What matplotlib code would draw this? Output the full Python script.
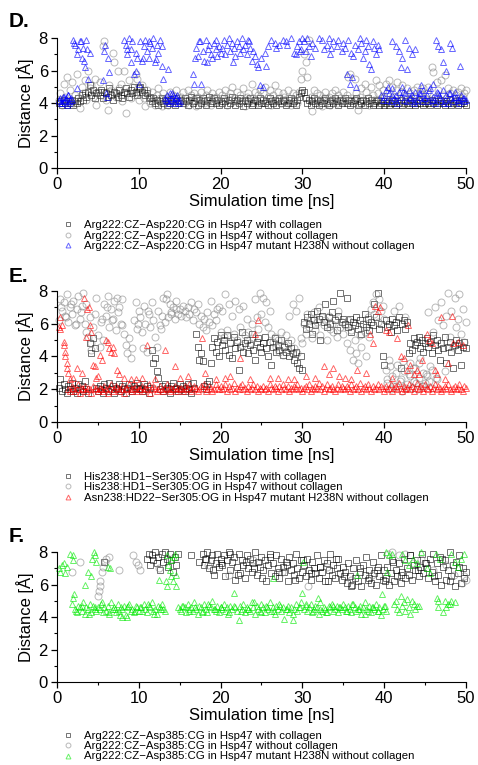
import numpy as np
import matplotlib.pyplot as plt
from matplotlib.ticker import MultipleLocator

plt.rcParams['font.family'] = ['Liberation Sans', 'DejaVu Sans']

nan = np.nan
# frames written every 0.2 ns
time_ns = np.arange(1, 251) * 0.2

# ---- panel D : Arg222:CZ-Asp220:CG ----
d_sq = [4.0, 4.1, 3.9, 4.2, 4.0, 3.9, 4.1, 4.0, 4.2, 3.9, 4.1, 4.0, 4.3, 4.1, 4.5, 4.2, 4.6, 4.4, 4.7, 5.1, 4.5, 4.8, 4.3, 4.6, 4.7,
        4.5, 4.8, 4.3, 4.7, 4.6, 4.4, 4.9, 4.5, 4.2, 4.7, 4.6, 4.4, 4.8, 4.5, 4.3, 4.7, 4.9, 4.6, 4.4, 4.8, 4.6, 5.0, 4.7, 4.5, 4.9,
        5.0, 4.7, 4.8, 4.5, 4.6, 4.3, 4.4, 4.1, 4.3, 4.0, 4.2, 3.9, 4.1, 4.3, 4.0, 4.2, 3.9, 4.1, 4.0, 4.2, 4.1, 3.9, 4.3, 4.0, 4.1,
        4.2, 4.0, 4.3, 4.1, 3.9, 4.2, 4.4, 4.0, 4.1, 4.3, 3.9, 4.2, 4.0, 4.3, 4.1, 3.9, 4.2, 4.4, 4.0, 4.1, 4.3, 4.0, 4.2, 3.9, 4.1,
        4.0, 4.3, 4.1, 3.9, 4.2, 4.0, 4.4, 4.1, 3.9, 4.2, 4.0, 4.3, 4.1, 3.8, 4.2, 4.0, 4.1, 4.3, 3.9, 4.0, 4.2, 4.1, 3.9, 4.3, 4.0,
        4.2, 4.0, 4.1, 3.9, 4.3, 4.1, 4.0, 4.2, 3.9, 4.1, 4.3, 4.0, 4.2, 4.1, 3.9, 4.0, 4.2, 4.3, 4.0, 4.1, 3.9, 4.2, 4.4, 4.6, 4.8,
        4.7, 4.3, 4.0, 4.2, 3.9, 4.1, 4.3, 4.0, 4.2, 3.9, 4.1, 4.0, 4.2, 4.3, 4.0, 3.9, 4.1, 4.2, 4.0, 4.3, 4.1, 3.9, 4.2, 4.0, 4.1,
        4.3, 4.0, 4.2, 3.9, 4.1, 4.0, 4.2, 4.3, 3.9, 4.1, 4.0, 4.2, 3.9, 4.1, 4.3, 4.0, 4.2, 3.9, 4.0, 4.1, 4.2, 3.9, 4.0, 4.1, 3.9,
        4.0, 4.1, 3.9, 4.0, 4.2, 4.0, 3.9, 4.1, 4.0, 4.2, 3.9, 4.0, 4.1, 4.0, 3.9, 4.2, 4.0, 4.1, 3.9, 4.0, 4.2, 4.0, 4.1, 3.9, 4.0,
        4.1, 4.0, 3.9, 4.2, 4.0, 4.1, 3.9, 4.0, 4.2, 4.1, 4.0, 3.9, 4.1, 4.0, 4.2, 3.9, 4.0, 4.1, 4.0, 3.9, 4.2, 4.0, 4.1, 4.0, 3.9]
d_ci = [4.2, 4.6, 3.9, 5.2, 4.4, 5.6, 4.1, 4.8, 5.3, 4.0, 4.5, 5.8, 4.3, 3.7, 5.0, 4.6, 5.4, 4.2, 6.0, 4.9, 5.1, 4.4, 5.5, 3.9, 4.7,
        5.3, 4.5, 7.5, 7.8, 4.2, 3.6, 5.1, 4.8, 7.1, 6.5, 4.4, 6.0, 4.9, 5.2, 4.1, 6.0, 3.4, 4.7, 5.4, 4.3, 5.0, 4.5, 5.8, 5.5, 4.2,
        4.6, 5.1, 4.3, 3.8, 4.8, 4.4, 4.0, 4.7, 4.2, 3.9, 4.5, 4.9, 4.3, 3.8, 4.6, 4.1, 4.4, 3.9, 4.7, 4.2, 4.5, 4.0, 4.8, 4.3, 4.1,
        4.4, 4.7, 4.0, 4.3, 4.8, 3.9, 4.5, 4.2, 4.6, 3.8, 4.4, 4.1, 4.7, 4.3, 4.0, 4.5, 4.8, 4.2, 3.9, 4.6, 4.3, 4.4, 4.1, 4.7, 4.0,
        4.5, 4.2, 4.8, 3.9, 4.4, 4.6, 5.0, 4.1, 4.3, 4.7, 4.0, 4.5, 4.2, 4.9, 3.8, 4.4, 4.6, 4.1, 5.2, 4.3, 4.7, 4.0, 4.5, 4.8, 4.2,
        4.6, 5.0, 4.1, 4.4, 4.8, 3.9, 4.5, 5.1, 4.2, 4.7, 4.3, 4.0, 4.6, 4.4, 4.1, 4.8, 4.3, 3.9, 4.6, 4.2, 4.5, 4.0, 4.7, 5.5, 6.0,
        7.0, 6.5, 5.6, 7.9, 4.4, 3.5, 4.8, 4.2, 4.6, 4.0, 4.5, 3.8, 4.3, 4.7, 4.1, 4.4, 3.9, 4.6, 4.2, 4.8, 4.0, 4.5, 4.3, 4.1, 4.7,
        4.2, 4.5, 5.6, 5.8, 4.3, 4.0, 5.5, 4.6, 3.6, 4.4, 4.9, 4.1, 5.2, 4.7, 4.3, 3.9, 5.0, 4.5, 4.2, 5.4, 4.6, 5.1, 4.3, 4.8, 4.4,
        5.2, 4.6, 5.4, 4.1, 5.0, 4.4, 4.8, 5.3, 4.2, 4.7, 5.1, 4.0, 4.5, 4.9, 4.3, 4.6, 4.1, 4.8, 4.4, 5.0, 4.2, 4.7, 4.5, 4.9, 4.3,
        4.6, 5.0, 4.2, 6.2, 5.9, 4.4, 5.3, 4.8, 4.1, 5.4, 4.5, 5.7, 4.3, 4.9, 4.6, 4.2, 4.8, 4.0, 4.5, 4.7, 4.3, 4.9, 4.4, 4.6, 4.8]
d_tr = [4.1, 4.3, 4.0, 4.4, 4.2, 3.9, 4.5, 4.1, 4.2, 7.9, 7.6, 4.9, 7.3, 7.8, 6.8, 7.4, 6.2, 7.9, 5.5, 7.1, nan, nan, nan, nan, nan,
        nan, nan, 5.4, 7.2, 4.6, 6.8, 5.9, nan, nan, nan, nan, nan, nan, nan, nan, 7.9, 7.6, 7.3, 8.0, 6.5, 7.8, 5.8, 7.1, 6.8, 5.2,
        7.8, 6.6, 7.5, 7.9, 7.2, 6.8, 7.7, 7.4, 8.0, 6.5, 7.6, 7.1, 7.9, 6.3, 5.5, 4.3, 4.1, 6.1, 4.6, 4.2, 4.5, 4.0, 4.4, 4.2, 4.1,
        nan, nan, nan, nan, nan, nan, nan, 5.8, 5.2, 7.4, 6.9, 7.8, 5.2, 7.2, 6.6, 7.9, 6.5, 7.6, 7.0, 6.8, 7.7, 7.3, 6.9, 7.5, 7.1,
        7.4, 7.9, 7.0, 7.6, 8.0, 7.2, 7.7, 7.4, 6.9, 7.8, 7.5, 7.1, 8.0, 7.3, 7.6, 7.0, 7.9, 7.4, 6.6, 7.2, 6.9, 6.4, 6.2, 5.1, 6.8,
        5.0, 7.1, 6.3, 7.5, nan, 7.9, nan, 7.7, 7.4, nan, 7.6, nan, 7.9, nan, 7.8, nan, nan, 8.0, nan, 7.1, 7.0, 7.5, 7.8, 7.3, 8.0,
        7.8, 7.2, 8.0, 7.5, 6.9, 7.7, nan, 7.4, nan, 8.0, nan, 7.9, 7.3, nan, 7.6, 8.0, 7.0, nan, 7.8, nan, 7.5, 7.9, nan, 7.2, 7.7,
        7.4, 5.8, 7.9, 5.2, 7.1, 6.9, 7.6, 5.0, 7.3, 8.0, 7.7, 6.8, 7.2, 7.9, 7.5, 6.4, 6.1, 7.8, 7.4, 7.0, 7.6, 7.3, 4.5, 4.2, 4.4,
        4.8, 4.2, 4.6, 4.1, 4.9, 4.3, 4.5, 4.0, 4.7, 4.4, 5.0, 4.2, 4.6, 4.1, 4.8, 4.3, 4.5, 4.0, 4.7, 4.2, 4.4, 4.6, 4.1, 4.8, 4.3,
        4.5, 4.1, 4.9, 4.2, 4.4, 4.0, 4.7, 4.6, 4.3, 4.1, 4.8, 4.2, 4.5, 4.0, 4.6, 4.3, 4.1, 4.7, 4.4, 4.2, 4.0, 4.5, 4.3, 4.1, 4.2]
d_tr_xt = [0.3, 0.5, 0.7, 0.9, 1.1, 1.3, 1.5, 1.7, 2.1, 2.5, 2.9, 3.3, 3.7, 5.9, 6.1, 8.5, 9.1, 9.7, 10.5, 11.3, 12.1, 12.9,
           13.3, 13.5, 13.7, 13.9, 14.1, 14.3, 14.5, 14.7, 14.9, 16.9, 17.5, 18.5, 19.5, 21.5, 23.5, 28.1, 29.7, 33.5, 36.1,
           40.5, 41.0, 41.4, 41.8, 42.0, 42.2, 42.6, 42.8, 43.0, 43.4, 43.8, 44.5, 46.0, 46.3, 46.6, 47.0, 47.2, 47.6, 48.0,
           48.3, 49.3, 40.9, 41.5, 42.3, 43.1, 43.7, 44.3, 44.9, 45.5, 46.1, 46.7, 47.3, 47.9, 48.5, 49.1, 49.7]
d_tr_xv = [4.2, 4.0, 4.4, 4.1, 4.3, 4.5, 4.0, 4.3, 7.7, 7.0, 7.8, 6.6, 7.3, 7.6, 4.4, 7.0, 7.3, 6.0, 6.8, 7.8, 6.7, 7.5,
           4.2, 4.5, 4.0, 4.3, 4.6, 4.1, 4.3, 4.5, 4.0, 6.8, 7.8, 7.3, 7.9, 6.5, 7.8, 7.6, 7.2, 7.4, 5.6,
           5.0, 7.8, 7.5, 7.2, 6.2, 6.8, 7.9, 6.1, 7.4, 7.0, 7.3, 5.1, 5.2, 7.9, 7.5, 7.3, 6.5, 6.0, 7.7,
           7.4, 6.3, 4.5, 4.2, 4.7, 4.4, 4.1, 4.6, 4.3, 4.8, 4.2, 4.5, 4.0, 4.6, 4.4, 4.2, 4.3]

# ---- panel E : His238:HD1 / Asn238:HD22 - Ser305:OG ----
e_sq = [2.1, 2.6, 1.9, 2.3, 2.0, 1.8, 2.2, 2.0, 2.4, 1.9, 2.1, 1.8, 2.3, 2.0, 2.2, 1.9, 2.5, 2.0, 1.8, 4.8, 4.2, 5.1, 4.5, 2.1, 1.9,
        2.2, 2.0, 1.8, 2.3, 2.1, 1.9, 2.4, 2.0, 2.2, 1.8, 2.1, 2.0, 2.3, 1.9, 2.2, 2.0, 1.8, 2.1, 2.3, 2.0, 1.9, 2.2, 2.1, 2.4, 2.0,
        2.1, 1.9, 2.3, 2.0, 2.2, 1.8, 2.1, 4.4, 3.6, 3.9, 3.1, 2.7, 2.0, 2.2, 1.9, 2.3, 2.1, 2.0, 1.8, 2.2, 2.4, 2.0, 2.1, 1.9, 2.3,
        2.0, 2.2, 1.9, 2.1, 2.3, 2.0, 1.8, 2.4, 2.1, 5.4, 4.6, 3.8, 4.2, 3.7, 2.2, 2.0, 2.3, 2.5, 3.6, 4.6, 5.1, 4.3, 4.9, 4.0, 5.3,
        4.7, 5.0, 4.4, 5.3, 4.1, 4.8, 3.9, 5.2, 4.5, 4.9, 3.2, 4.6, 5.5, 4.3, 4.8, 5.0, 4.2, 4.7, 5.4, 4.4, 3.8, 4.9, 5.1, 4.6, 4.3,
        4.8, 5.2, 4.5, 4.0, 4.9, 3.5, 4.6, 5.1, 4.3, 4.7, 4.4, 5.0, 4.1, 4.6, 4.3, 4.8, 4.0, 4.5, 4.2, 3.8, 4.3, 3.6, 3.3, 4.0, 3.2,
        6.1, 5.7, 6.4, 6.0, 6.6, 5.4, 6.2, 5.9, 6.8, 6.3, 5.0, 6.5, 6.1, 7.2, 5.8, 6.4, 6.0, 6.7, 7.4, 6.2, 5.6, 6.5, 7.9, 6.1, 6.3,
        6.0, 7.6, 5.8, 6.3, 5.5, 6.1, 5.9, 6.4, 5.7, 6.2, 5.4, 6.0, 6.6, 5.8, 6.3, 5.6, 6.1, 5.9, 7.2, 6.4, 7.9, 5.7, 6.0, 4.0, 3.5,
        6.2, 5.8, 6.0, 5.5, 6.3, 5.9, 6.1, 5.6, 6.4, 3.3, 6.0, 6.2, 5.7, 6.1, 4.2, 4.8, 4.4, 5.1, 4.7, 4.9, 5.2, 4.5, 5.0, 4.3, 4.8,
        5.1, 4.6, 4.9, 4.2, 5.3, 4.7, 5.0, 4.4, 3.8, 4.8, 4.5, 5.2, 3.6, 4.6, 4.9, 4.3, 3.3, 4.7, 5.0, 4.4, 4.8, 3.5, 4.6, 4.9, 4.5]
e_ci = [6.2, 7.5, 6.8, 7.3, 6.5, 7.8, 6.1, 7.0, 6.6, 7.4, 5.9, 6.9, 7.7, 6.3, 7.1, 7.9, 6.0, 7.2, 5.2, 6.4, 4.8, 5.8, 6.6, 7.6, 5.3,
        4.6, 6.1, 5.0, 7.2, 6.5, 7.7, 5.8, 6.9, 6.3, 7.4, 5.6, 6.7, 7.0, 6.0, 7.5, 5.4, 4.7, 4.2, 5.1, 3.9, 4.5, 6.2, 7.3, 5.7, 6.8,
        6.4, 5.5, 7.1, 6.0, 4.3, 6.6, 5.8, 7.3, 6.2, 5.2, 4.6, 6.8, 5.9, 6.5, 7.6, 6.1, 7.8, 6.4, 7.2, 6.7, 7.0, 6.3, 7.4, 6.6, 6.9,
        6.5, 7.1, 6.8, 6.4, 7.0, 6.6, 7.3, 6.2, 6.9, 6.7, 7.2, 6.0, 6.5, 5.8, 6.3, 5.6, 6.7, 6.1, 7.4, 5.9, 6.6, 6.2, 6.9, 7.0, 5.5,
        6.8, 5.2, 7.8, 5.6, 7.2, 4.9, 6.5, 5.4, 7.4, 5.0, 6.9, 5.8, 4.7, 7.1, 5.3, 6.3, 5.5, 4.8, 6.0, 5.1, 7.5, 6.4, 5.7, 7.9, 6.6,
        7.6, 6.1, 7.3, 5.8, 6.8, 5.4, 4.9, 5.2, 4.6, 5.0, 4.3, 5.5, 4.1, 4.7, 5.3, 4.4, 6.5, 5.0, 7.2, 4.5, 6.8, 4.2, 7.6, 5.1, 4.8,
        6.0, 5.4, 6.6, 5.8, 6.3, 5.1, 6.7, 5.6, 6.1, 7.0, 5.3, 6.4, 5.9, 6.2, 5.0, 6.5, 5.7, 6.0, 5.5, 6.3, 5.2, 6.8, 5.8, 6.1, 5.4,
        5.9, 4.8, 6.2, 4.4, 5.6, 3.8, 5.0, 4.2, 3.6, 5.3, 4.6, 6.0, 5.5, 4.0, 6.4, 5.2, 6.9, 7.3, 6.6, 7.8, 6.1, 7.5, 6.8, 7.1, 6.3,
        3.2, 2.4, 3.8, 2.0, 2.8, 6.8, 2.2, 3.5, 7.1, 2.6, 1.9, 3.1, 6.4, 2.3, 2.9, 3.6, 2.1, 2.5, 3.3, 2.0, 2.7, 3.9, 2.2, 3.0, 2.4,
        2.8, 6.7, 3.4, 2.1, 5.5, 7.0, 2.6, 6.2, 4.8, 7.3, 5.9, 3.1, 6.5, 7.9, 5.2, 6.8, 4.6, 7.6, 5.8, 6.3, 7.8, 5.4, 6.9, 4.9, 6.1]
e_ci_xt = [40.3, 40.7, 41.1, 41.5, 41.9, 42.3, 42.7, 43.1, 43.5, 43.9, 44.3, 44.7, 45.1, 45.5, 45.9, 46.3,
           0.5, 1.1, 1.7, 2.3, 2.9, 3.5, 4.1, 5.5, 6.1, 6.7, 7.3, 7.9, 9.9, 10.5, 11.1, 12.7, 13.3, 13.9, 14.5]
e_ci_xv = [2.6, 3.4, 2.2, 3.0, 2.5, 3.7, 2.1, 2.8, 3.3, 2.4, 3.6, 2.2, 2.9, 2.5, 3.2, 2.7,
           7.0, 6.4, 7.2, 6.0, 6.7, 5.5, 4.4, 6.3, 7.0, 6.2, 7.6, 5.9, 6.0, 4.5, 6.8, 5.7, 7.5, 6.6, 6.9]
e_tr = [5.8, 5.7, 5.9, 4.9, 4.3, 3.6, 2.0, 1.9, 2.2, 2.1, 1.9, 2.0, 2.3, 1.8, 2.1, 2.0, 2.2, 1.9, 2.1, 2.0, 1.8, 2.2, 2.0, 2.1, 1.9,
        2.1, 2.0, 1.9, 2.2, 2.0, 1.8, 2.1, 2.3, 1.9, 2.0, 2.2, 2.1, 1.9, 2.0, 2.2, 1.8, 2.1, 2.0, 2.3, 1.9, 2.0, 2.1, 2.2, 1.9, 2.0,
        2.0, 2.2, 1.9, 2.1, 2.0, 2.3, 1.8, 2.0, 2.2, 2.1, 1.9, 2.0, 2.2, 2.0, 1.9, 2.1, 2.3, 2.0, 1.9, 2.1, 2.0, 2.2, 1.9, 2.1, 2.0,
        2.1, 1.9, 2.2, 2.0, 2.1, 2.3, 1.9, 2.0, 2.2, 2.1, 1.9, 2.0, 2.2, 2.1, 2.3, 1.9, 2.0, 2.2, 2.1, 1.9, 2.0, 2.3, 2.1, 2.0, 2.2,
        2.0, 2.1, 2.3, 1.9, 2.2, 2.0, 2.1, 2.4, 1.9, 2.1, 2.0, 2.2, 2.3, 2.0, 2.1, 1.9, 2.2, 2.0, 2.1, 2.3, 2.0, 2.2, 1.9, 2.1, 2.0,
        2.2, 2.0, 2.1, 1.9, 2.3, 2.1, 2.0, 2.2, 2.1, 1.9, 2.2, 2.0, 2.3, 2.1, 2.0, 2.2, 1.9, 2.1, 2.0, 2.2, 2.1, 2.3, 2.0, 2.1, 1.9,
        2.1, 2.2, 2.0, 2.3, 1.9, 2.1, 2.0, 2.2, 2.1, 2.4, 2.0, 2.2, 1.9, 2.1, 2.3, 2.0, 2.1, 2.2, 2.0, 1.9, 2.1, 2.3, 2.0, 2.2, 2.1,
        2.0, 2.2, 2.1, 1.9, 2.3, 2.0, 2.1, 2.2, 2.0, 2.4, 1.9, 2.1, 2.2, 2.0, 2.3, 2.1, 1.9, 2.2, 2.0, 2.1, 2.3, 2.0, 2.2, 2.1, 1.9,
        2.2, 2.0, 2.1, 2.3, 1.9, 2.1, 2.2, 2.0, 2.4, 2.1, 1.9, 2.2, 2.0, 2.1, 2.3, 2.0, 2.2, 1.9, 2.1, 2.4, 2.0, 2.2, 2.1, 1.9, 2.3,
        2.1, 2.0, 2.2, 1.9, 2.1, 2.3, 2.0, 2.2, 2.1, 1.9, 2.0, 2.2, 2.1, 2.3, 2.0, 1.9, 2.1, 2.2, 2.0, 2.1, 2.3, 2.0, 1.9, 2.2, 2.1]
e_tr_xt = [0.4, 0.8, 1.0, 1.2, 1.4, 1.6, 2.5, 3.0, 3.3, 3.5, 3.7, 3.9, 4.0, 4.1, 4.4, 4.6, 4.8, 5.3, 5.5, 6.0, 6.2, 6.4,
           6.6, 6.8, 7.0, 7.3, 8.2, 9.0, 11.0, 13.2, 14.4, 16.0, 17.7, 18.1, 20.5, 22.4, 24.2, 24.6, 27.0, 29.0, 31.5,
           32.6, 33.2, 33.8, 34.5, 35.2, 36.7, 37.8, 38.3, 38.6, 38.9, 39.2, 39.5, 40.2, 40.6, 41.6, 42.0, 42.4, 42.8,
           42.9, 43.2, 43.6, 44.0, 44.6, 45.2, 45.5, 45.8, 46.2, 46.5, 47.0, 47.8, 48.3, 48.4, 49.0, 49.6,
           2.0, 5.0, 7.6, 9.6, 10.4, 12.0, 15.0, 19.4, 21.2, 23.6, 26.0, 28.2, 30.4, 36.0, 41.0, 44.2, 47.4]
e_tr_xv = [6.4, 4.7, 4.0, 3.3, 3.0, 2.6, 3.3, 3.0, 7.6, 5.2, 6.9, 7.0, 5.9, 5.5, 3.5, 3.4, 2.7, 4.1, 3.8, 5.0, 4.9, 4.5,
           4.3, 4.6, 4.2, 3.2, 2.7, 2.6, 4.7, 4.4, 3.4, 2.8, 5.1, 3.0, 2.7, 3.9, 5.4, 6.2, 2.7, 2.6, 2.7,
           3.4, 2.9, 3.3, 2.8, 2.7, 3.2, 3.0, 5.4, 4.8, 7.1, 6.8, 7.0, 5.6, 5.5, 5.1, 4.0, 3.9, 3.2,
           5.9, 3.5, 2.9, 3.2, 3.8, 5.4, 5.0, 4.8, 3.2, 2.9, 6.4, 3.6, 6.5, 4.8, 4.9, 4.7,
           2.7, 2.8, 2.9, 2.6, 2.7, 2.6, 2.7, 2.6, 2.8, 2.6, 2.7, 2.6, 2.8, 2.6, 2.7, 2.9, 2.6]

# ---- panel F : Arg222:CZ-Asp385:CG ----
f_sq = [nan] * 25 + \
       [nan, nan, nan, 7.4, nan, nan, nan, nan, nan, nan, nan, nan, nan, nan, nan, nan, nan, nan, nan, nan, nan, nan, nan, nan, nan,
        nan, nan, nan, nan, 7.6, 7.9, 7.2, 7.8, 7.5, 8.0, 7.3, 7.7, 6.9, 7.9, 7.4, 8.0, 7.6, 7.1, 7.9, 7.5, 6.8, 7.7, 7.2, 7.9, nan,
        nan, nan, nan, nan, nan, nan, 7.8, nan, nan, nan, nan, 7.4, nan, 7.9, 7.2, 7.6, 8.0, 7.0, 7.5, 7.8, 6.6, 7.3, 7.9, 7.1, 7.6,
        7.2, 7.8, 6.5, 7.5, 8.0, 6.9, 7.4, 7.7, 6.3, 7.1, 7.9, 6.7, 7.5, 7.2, 6.4, 7.8, 7.0, 7.6, 6.8, 7.3, 8.0, 6.6, 7.4, 7.1, 7.7,
        6.9, 7.5, 6.2, 7.2, 7.9, 6.7, 7.3, 6.5, 7.8, 7.0, 6.4, 7.6, 7.1, 6.8, 7.4, 6.2, 7.7, 6.9, 7.3, 6.6, 7.9, 7.0, 6.4, 7.5, 6.8,
        7.2, 6.5, 7.6, 6.9, 6.3, 7.4, 7.0, 6.7, 7.8, 6.4, 7.1, 6.8, 7.5, 6.2, 7.3, 6.9, 7.9, 6.6, 7.2, 6.4, 7.0, 7.6, 6.7, 6.3, 7.1,
        6.8, 6.1, 7.3, 6.5, 5.9, 7.0, 6.4, 7.5, 6.2, 6.8, 5.9, 7.2, 6.6, 7.7, 6.3, 6.9, 6.1, 7.4, 6.7, 6.0, 7.1, 6.5, 7.8, 6.3, 6.9,
        6.4, 7.1, 6.0, 6.7, 7.5, 6.2, 6.9, 6.5, 7.3, 6.1, 6.8, 7.6, 6.4, 7.0, 6.6, 7.8, 6.3, 7.2, 6.9, 7.5, 6.5, 7.1, 7.9, 6.7, 7.3,
        7.0, 6.4, 7.6, 6.8, 7.9, 6.2, 7.3, 6.6, 7.7, 6.0, 7.1, 7.5, 6.3, 6.9, 8.0, 6.5, 7.2, 5.9, 7.4, 6.7, 7.8, 6.1, 7.0, 6.4, 6.8]
f_sq_xt = [18.1, 19.1, 20.1, 21.1, 22.1, 23.1, 24.1, 25.1, 26.1, 27.1, 28.1, 29.1, 30.1, 31.1, 32.1, 33.1,
           34.1, 35.1, 36.1, 37.1, 38.1, 39.1, 40.1, 41.1, 42.1, 43.1, 44.1, 45.1, 46.1, 47.1, 48.1, 49.1]
f_sq_xv = [7.6, 6.9, 7.3, 7.9, 6.6, 7.4, 7.0, 6.4, 7.7, 6.8, 7.2, 6.3, 7.5, 6.7, 7.1, 6.2,
           7.6, 6.5, 6.0, 7.0, 6.4, 6.9, 6.2, 7.4, 6.6, 7.8, 6.9, 7.3, 6.5, 7.6, 6.2, 7.1]
f_ci_xt = [1.8, 2.8, 5.0, 5.1, 5.2, 5.3, 5.5, 5.6, 5.9, 6.0, 6.3, 7.6, 9.3, 9.6, 9.9, 10.2, 12.5, 14.0, 18.5, 21.0,
           24.0, 27.5, 30.7, 33.0, 36.0, 38.5, 40.5, 41.0, 41.8, 42.5, 43.5, 44.5, 46.0, 47.5, 48.5, 49.5, 49.8, 50.0]
f_ci_xv = [6.8, 7.4, 5.3, 5.6, 5.9, 6.2, 6.8, 7.1, 7.4, 7.6, 7.7, 6.9, 7.8, 7.4, 7.2, 6.9, 7.0, 7.6, 7.2, 6.6,
           7.5, 6.8, 5.9, 7.1, 6.3, 6.6, 7.9, 8.0, 7.8, 7.9, 7.3, 7.6, 6.9, 7.2, 6.6, 6.1, 6.5, 6.3]
f_tr = [7.0, 6.8, 7.2, 7.3, 6.7, 7.1, nan, 7.9, 4.8, 5.2, 4.5, 4.3, 4.7, 4.6, 4.4, 4.9, 4.2, 4.6, 4.5, 4.8, 4.3, 4.7, 4.5, 4.4, 4.6,
        4.5, 4.8, 4.3, 4.6, 4.4, 4.7, 4.2, 4.9, 4.5, 4.6, 4.3, 4.8, 4.4, 4.6, 4.5, 4.7, 4.1, 4.6, 4.8, 4.4, 4.5, 4.3, 4.7, 4.6, 4.4,
        4.6, 4.4, 4.8, 4.5, 4.3, 4.7, 4.6, 4.9, 4.4, 4.5, 4.2, 4.7, 4.6, 4.8, 4.5, 4.4, 7.8, 7.2, 6.9, 7.5, 6.2, 7.9, 5.9, 4.6, 4.5,
        4.4, 4.7, 4.6, 4.3, 4.8, 4.5, 4.6, 4.4, 4.9, 4.5, 4.2, 4.7, 4.6, 4.4, 4.8, 4.5, 4.3, 4.7, 4.6, 5.0, 4.5, 4.4, 4.7, 4.3, 4.6,
        4.5, 4.8, 4.4, 4.6, 4.3, 4.7, 4.5, 5.5, 4.6, 4.4, 3.8, 4.7, 4.5, 4.8, 4.3, 4.6, 4.5, 4.4, 4.9, 4.6, 4.2, 4.7, 4.5, 4.4, 4.8,
        4.6, 4.3, 4.7, 4.5, 4.9, 4.4, 4.6, 4.2, 4.7, 4.5, 4.8, 4.4, 4.6, 3.9, 4.5, 4.7, 4.3, 4.6, 3.8, 4.5, 4.8, 4.4, 4.6, 4.9, 5.5,
        4.5, 4.7, 4.4, 4.6, 4.8, 4.3, 4.5, 4.7, 4.6, 4.2, 4.9, 4.4, 4.6, 4.5, 4.3, 4.7, 4.6, 4.8, 4.4, 4.5, 4.7, 4.3, 4.6, 4.5, 4.8,
        4.6, 4.4, 4.7, 4.5, 4.3, 4.8, 4.6, 4.4, 4.5, 4.7, 4.2, 4.6, 4.9, 4.5, 4.4, 4.7, 4.3, 4.6, 4.5, 4.8, 4.4, 4.6, 4.1, 4.5, 4.7,
        4.4, nan, nan, nan, nan, 4.8, 5.0, 4.5, 4.3, 5.3, 4.7, 4.9, 4.4, 5.1, 4.6, 4.2, 5.0, 4.8, 4.5, nan, 4.7, nan, nan, nan, nan,
        nan, nan, nan, nan, nan, nan, nan, 5.0, nan, nan, 4.3, nan, 4.6, 4.8, nan, 5.0, nan, 4.9, nan, nan, nan, nan, nan, nan, nan]
f_tr_xt = [1.9, 2.0, 2.1, 3.4, 3.8, 4.1, 4.3, 4.5, 4.7, 4.8, 6.2, 6.5, 12.5, 13.3, 13.5, 14.0, 14.3, 14.6, 26.4, 30.1,
           31.9, 36.7, 39.7, 40.2, 40.3, 40.6, 41.0, 42.2, 42.6, 43.0, 43.5, 44.0, 44.5, 45.2, 45.6, 46.3, 46.8, 48.2,
           48.6, 49.0, 49.4, 49.8, 44.0, 46.5, 46.6, 47.4, 48.0, 7.7, 8.5,
           2.3, 3.1, 3.9, 4.7, 5.5, 6.3, 7.1, 7.9, 8.7, 9.5, 10.3, 11.1, 11.9, 12.7, 15.3, 16.1, 16.9, 17.7, 18.5, 19.3,
           20.1, 20.9, 21.7, 22.5, 23.3, 24.1, 24.9, 25.7, 26.5, 27.3, 28.1, 28.9, 29.7, 30.5, 31.3, 32.1, 32.9, 33.7,
           34.5, 35.3, 36.1, 36.9, 37.7, 38.5, 39.3, 40.1]
f_tr_xv = [7.8, 7.5, 5.4, 6.0, 6.8, 6.5, 7.6, 8.0, 7.8, 7.4, 7.1, 7.0, 6.3, 6.2, 5.9, 6.5, 7.7, 6.6, 6.4, 7.4,
           5.2, 6.6, 5.4, 8.0, 6.8, 7.8, 7.9, 7.9, 7.5, 7.2, 7.6, 7.3, 8.0, 7.0, 6.7, 7.9, 7.6, 7.9,
           7.4, 7.1, 7.6, 7.9, 4.7, 5.2, 4.6, 5.0, 4.8, 4.1, 4.0,
           4.4, 4.7, 4.2, 4.6, 4.9, 4.3, 4.5, 4.0, 4.7, 4.4, 4.6, 4.8, 4.2, 4.5, 4.7, 4.4, 4.6, 4.3, 4.8, 4.5,
           4.6, 4.2, 4.7, 4.4, 4.5, 4.9, 4.3, 4.6, 4.4, 4.7, 4.5, 4.2, 4.6, 4.8, 4.4, 4.5, 4.3, 4.7,
           4.6, 4.4, 4.8, 4.5, 4.2, 4.6, 4.4, 4.7]

d_labels = ['Arg222:CZ\u2212Asp220:CG in Hsp47 with collagen',
            'Arg222:CZ\u2212Asp220:CG in Hsp47 without collagen',
            'Arg222:CZ\u2212Asp220:CG in Hsp47 mutant H238N without collagen']
e_labels = ['His238:HD1\u2212Ser305:OG in Hsp47 with collagen',
            'His238:HD1\u2212Ser305:OG in Hsp47 without collagen',
            'Asn238:HD22\u2212Ser305:OG in Hsp47 mutant H238N without collagen']
f_labels = ['Arg222:CZ\u2212Asp385:CG in Hsp47 with collagen',
            'Arg222:CZ\u2212Asp385:CG in Hsp47 without collagen',
            'Arg222:CZ\u2212Asp385:CG in Hsp47 mutant H238N without collagen']

for arr in (d_sq, d_ci, d_tr, e_sq, e_ci, e_tr, f_sq, f_tr):
    assert len(arr) == 250, len(arr)


def series(grid, xt=None, xv=None):
    t, v = [], []
    if grid is not None:
        t += list(time_ns)
        v += list(grid)
    if xt is not None:
        t += list(xt)
        v += list(xv)
    return t, v


fig = plt.figure(figsize=(4.78, 7.65), dpi=100)

panels = [
    ('D.', [0.1192, 0.7804, 0.8556, 0.1699], 0.9725, 0.7120,
     [series(d_sq), series(d_ci), series(d_tr, d_tr_xt, d_tr_xv)], d_labels, '#0000ff'),
    ('E.', [0.1192, 0.4484, 0.8556, 0.1712], 0.6390, 0.3830,
     [series(e_sq), series(e_ci, e_ci_xt, e_ci_xv), series(e_tr, e_tr_xt, e_tr_xv)], e_labels, '#ff0000'),
    ('F.', [0.1192, 0.1085, 0.8556, 0.1699], 0.2993, 0.0450,
     [series(f_sq, f_sq_xt, f_sq_xv), series(None, f_ci_xt, f_ci_xv), series(f_tr, f_tr_xt, f_tr_xv)], f_labels, '#00e800'),
]

for tag, rect, tag_y, leg_y, data, labels, tri_color in panels:
    ax = fig.add_axes(rect)
    styles = [('s', '#000000', 4.6, 0.55), ('o', '#808080', 5.0, 0.55), ('^', tri_color, 5.0, 0.6)]
    for (t, v), lab, (mk, col, ms, al) in zip(data, labels, styles):
        ax.plot(t, v, ls='none', marker=mk, ms=ms, mfc='none', mec=col, mew=0.7,
                alpha=al, label=lab, clip_on=False)
    ax.set_xlim(0, 50)
    ax.set_ylim(0, 8)
    ax.spines['top'].set_visible(False)
    ax.spines['right'].set_visible(False)
    ax.xaxis.set_major_locator(MultipleLocator(10))
    ax.yaxis.set_major_locator(MultipleLocator(2))
    ax.yaxis.set_minor_locator(MultipleLocator(1))
    if tag != 'D.':
        ax.xaxis.set_minor_locator(MultipleLocator(5))
    ax.tick_params(which='major', direction='out', length=4, width=0.9, labelsize=12, pad=2.5)
    ax.tick_params(which='minor', direction='out', length=2.2, width=0.8)
    ax.set_xlabel('Simulation time [ns]', fontsize=12, labelpad=1.5)
    ax.set_ylabel('Distance [\u00c5]', fontsize=12, labelpad=3)
    fig.text(0.017, tag_y, tag, fontsize=15, fontweight='bold', va='center')
    ax.legend(loc='upper left', bbox_to_anchor=(0.131, leg_y), bbox_transform=fig.transFigure,
              frameon=False, fontsize=8.2, borderpad=0, borderaxespad=0, handlelength=1.0,
              handletextpad=0.85, labelspacing=0.04, markerscale=0.7)

fig.savefig('out.png', dpi=100)
